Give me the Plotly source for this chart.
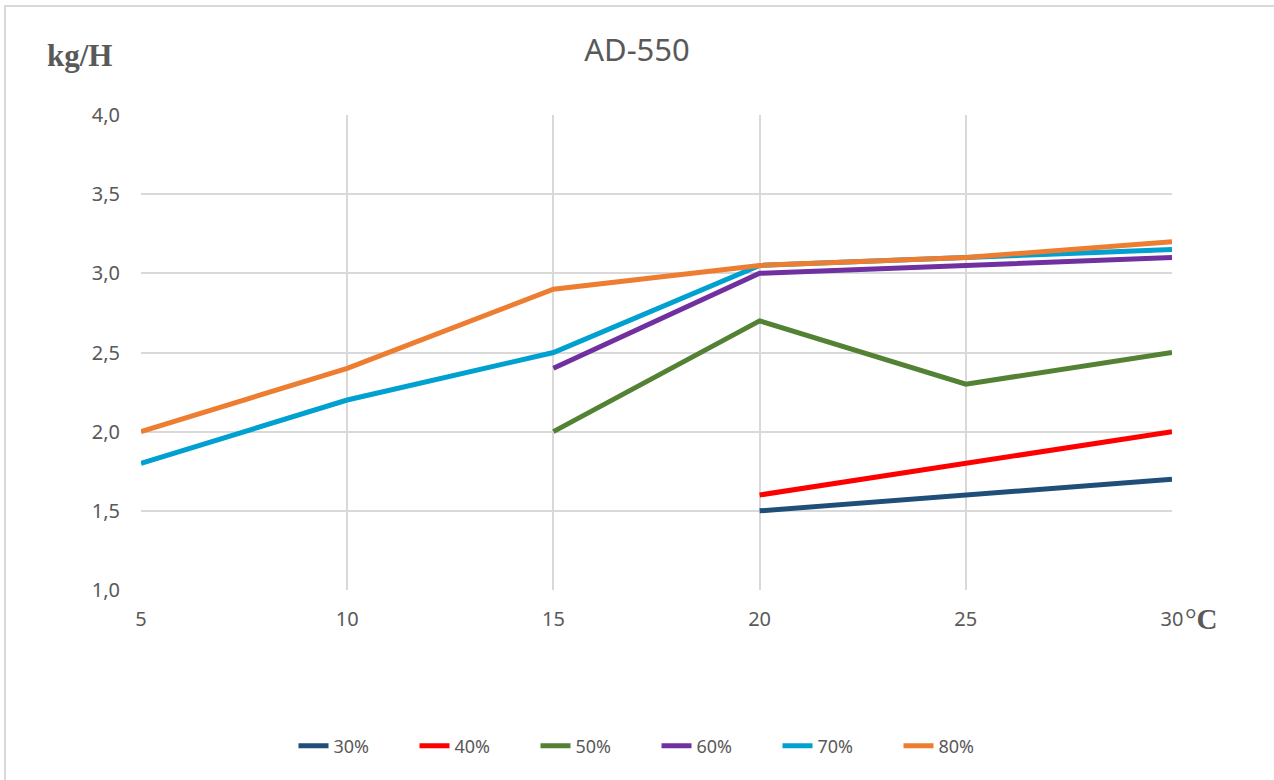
import plotly.graph_objects as go

x_vals = [5, 10, 15, 20, 25, 30]
y_30 = [None, None, None, 1.5, 1.6, 1.7]
y_40 = [None, None, None, 1.6, 1.8, 2.0]
y_50 = [None, None, 2.0, 2.7, 2.3, 2.5]
y_60 = [None, None, 2.4, 3.0, 3.05, 3.1]
y_70 = [1.8, 2.2, 2.5, 3.05, 3.1, 3.15]
y_80 = [2.0, 2.4, 2.9, 3.05, 3.1, 3.2]

series_names = ["30%", "40%", "50%", "60%", "70%", "80%"]
series_vals = [y_30, y_40, y_50, y_60, y_70, y_80]
colors = ["#1F4E79", "#FF0000", "#548235", "#7030A0", "#00A0D0", "#ED7D31"]

y_ticks = [1.0, 1.5, 2.0, 2.5, 3.0, 3.5, 4.0]
y_tick_text = ["1,0", "1,5", "2,0", "2,5", "3,0", "3,5", "4,0"]
x_tick_text = ["5", "10", "15", "20", "25", "30"]

W, H = 1274, 780
L, R, T, B = 141, 1172, 115, 590

fig = go.Figure()
for name, vals, c in zip(series_names, series_vals, colors):
    fig.add_trace(go.Scatter(x=x_vals, y=vals, name=name, mode="lines",
                             line=dict(color=c, width=5), connectgaps=False))

def px_x(px):
    return (px - L) / (R - L)

def px_y(py):
    return (B - py) / (B - T)

fig.update_layout(
    width=W, height=H,
    margin=dict(l=L, r=W - R, t=T, b=H - B, autoexpand=False),
    paper_bgcolor="white", plot_bgcolor="white",
    font=dict(family="Noto Sans, Open Sans, sans-serif", color="#595959", size=20),
    title=dict(text="AD-550", x=0.5, xanchor="center", y=1 - 50 / H, yanchor="middle",
               font=dict(size=31, color="#595959")),
    xaxis=dict(range=[5, 30], tickvals=x_vals, ticktext=x_tick_text,
               showgrid=True, gridcolor="#D9D9D9", gridwidth=1.5,
               zeroline=False, showline=False, ticks="", ticklabelstandoff=15,
               tickfont=dict(size=20, color="#595959")),
    yaxis=dict(range=[1.0, 4.0], tickvals=y_ticks, ticktext=y_tick_text,
               showgrid=True, gridcolor="#D9D9D9", gridwidth=1.5,
               zeroline=False, showline=False, ticks="", ticklabelstandoff=20,
               tickfont=dict(size=20, color="#595959")),
    legend=dict(orientation="h", x=0.5, xanchor="center",
                y=px_y(746), yanchor="middle",
                font=dict(size=18, color="#595959"), itemwidth=30,
                entrywidth=76, entrywidthmode="pixels",
                tracegroupgap=0),
    showlegend=True,
)

fig.add_annotation(text="<b>kg/H</b>", xref="paper", yref="paper",
                   x=px_x(79), y=px_y(56),
                   showarrow=False, xanchor="center", yanchor="middle",
                   font=dict(family="Liberation Serif, DejaVu Serif, serif", size=31, color="#595959"))
fig.add_annotation(text="°<b>C</b>", xref="paper", yref="paper",
                   x=px_x(1183), y=px_y(619),
                   showarrow=False, xanchor="left", yanchor="middle",
                   font=dict(family="Liberation Serif, DejaVu Serif, serif", size=29, color="#595959"))

# outer border (left and top visible)
fig.add_shape(type="rect", xref="paper", yref="paper",
              x0=px_x(5), x1=px_x(1300),
              y0=px_y(820), y1=px_y(6),
              line=dict(color="#D9D9D9", width=2), fillcolor="rgba(0,0,0,0)", layer="below")

fig.write_html("out.html", config={"displayModeBar": False},
               post_script="document.body.style.margin='0';")
